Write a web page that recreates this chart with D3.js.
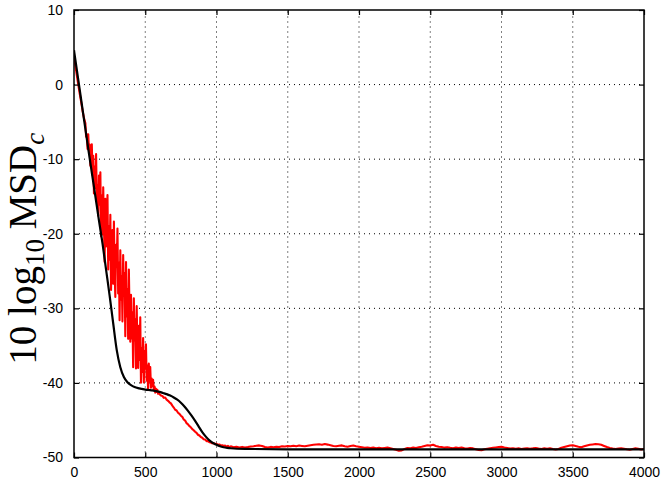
<!DOCTYPE html>
<html><head><meta charset="utf-8">
<script src="https://cdn.jsdelivr.net/npm/d3@7"></script>
<style>body{margin:0;background:#fff}</style>
</head><body>
<svg id="c" width="664" height="486"></svg>
<script>
// ---- data ----
const xTicks = [0,500,1000,1500,2000,2500,3000,3500,4000];
const yTicks = [-50,-40,-30,-20,-10,0,10];

// black curve (iteration, 10log10 MSD_c)
const blackIter = [0,25,50,75,100,125,150,175,200,225,250,275,300,325,350,375,400,425,450,475,500,525,550,575,600,625,650,675,700,725,750,775,800,825,850,875,900,925,950,975,1000,1025,1050,1075,1100,1200,1500,2000,3000,4000];
const blackMSD = [4.6,1.3,-2.0,-5.3,-8.6,-11.8,-15.0,-18.2,-21.3,-24.8,-28.3,-32.0,-35.6,-37.9,-39.2,-39.9,-40.3,-40.55,-40.7,-40.8,-40.9,-40.95,-41.0,-41.1,-41.2,-41.35,-41.5,-41.7,-41.95,-42.25,-42.65,-43.15,-43.75,-44.4,-45.1,-45.85,-46.6,-47.2,-47.7,-48.05,-48.3,-48.5,-48.62,-48.7,-48.76,-48.85,-48.9,-48.9,-48.9,-48.9];

// red curve, in segments (start iteration, step, values)
const redA = [3.7,2.5,1.2,0.0,-1.2,-2.3,-3.5,-4.5];            // 0..70 step 10
const redB = [-5.2,-7.0,-6.65,-8.62,-6.65,-8.91,-8.04,-10.88,-9.6,-8.0,-12.12,-9.55,-14.6,-11.01,-13.9,-9.3,-15.3,-13.46,-17.58,-12.2,-16.12,-11.75,-20.35,-14.89,-20.1,-13.78,-18.66,-23.8,-15.3,-21.7,-18.84,-14.8,-24.8,-19.02,-23.48,-17.45,-27.53,-22.08,-19.5,-26.7,-18.37,-24.88,-28.48,-21.48,-24.5,-19.3,-28.0,-23.86,-31.6,-22.23,-28.85,-25.7,-31.75,-22.85,-28.33,-25.28,-33.73,-23.78,-31.08,-27.45,-34.09,-24.8,-30.8,-34.48,-28.2,-34.03,-30.58,-37.9,-28.66,-34.3,-31.52,-38.07,-29.71,-35.16,-38.0,-32.34,-36.91,-31.2,-39.96,-35.4,-38.52,-33.97,-39.93,-35.74,-38.08,-34.82,-39.7,-37.67,-40.96,-37.4,-39.83,-37.86,-40.65,-39.43,-40.43,-39.59,-40.94,-40.47,-41.3,-40.77,-41.21,-40.93,-41.45,-41.29,-41.5]; // 80..600 step 5
const redC = [-41.7,-41.75,-42.0,-41.95,-42.25,-42.4,-42.6,-42.75,-43.05,-43.3,-43.6,-43.7,-44.0,-44.15,-44.4,-44.55,-44.9,-45.05,-45.4,-45.55,-45.8,-45.95,-46.2,-46.35,-46.55,-46.7,-46.95,-47.05,-47.25,-47.35,-47.55,-47.6,-47.8,-47.8,-47.95,-48.0,-48.1,-48.05,-48.2,-48.15,-48.3,-48.25,-48.4,-48.35,-48.45,-48.4,-48.55,-48.45,-48.6,-48.5]; // 610..1100 step 10
const redD = [-48.62,-48.55,-48.65,-48.58,-48.66,-48.6,-48.52,-48.5,-48.42,-48.38,-48.45,-48.6,-48.65,-48.58,-48.62,-48.55,-48.6,-48.5,-48.52,-48.45,-48.5,-48.42,-48.48,-48.4,-48.45,-48.5,-48.42,-48.35,-48.3,-48.25,-48.22,-48.28,-48.2,-48.27,-48.35,-48.45,-48.5,-48.42,-48.38,-48.48,-48.55,-48.45,-48.4,-48.48,-48.55,-48.62,-48.7,-48.65,-48.72,-48.68,-48.75,-48.7,-48.78,-48.72,-48.68,-48.75,-48.85,-48.95,-49.1,-49.05,-48.85,-48.72,-48.75,-48.68,-48.72,-48.62,-48.55,-48.45,-48.35,-48.4,-48.3,-48.45,-48.55,-48.6,-48.68,-48.62,-48.7,-48.75,-48.68,-48.72,-48.65,-48.75,-48.8,-48.72,-48.78,-48.88,-48.98,-49.02,-48.9,-48.82,-48.75,-48.7,-48.65,-48.6,-48.55,-48.65,-48.72,-48.8,-48.75,-48.82,-48.78,-48.85,-48.8,-48.75,-48.82,-48.78,-48.72,-48.8,-48.85,-48.78,-48.82,-48.75,-48.85,-48.92,-48.85,-48.7,-48.6,-48.5,-48.4,-48.35,-48.45,-48.55,-48.62,-48.5,-48.38,-48.3,-48.25,-48.2,-48.22,-48.3,-48.45,-48.6,-48.72,-48.8,-48.85,-48.8,-48.75,-48.82,-48.9,-48.95,-48.85,-48.78,-48.82,-48.92,-48.85]; // 1120.. step 20
const redSegments = [
  {start:0, step:10, values:redA},
  {start:80, step:5, values:redB},
  {start:610, step:10, values:redC},
  {start:1120, step:20, values:redD}
];

// ---- layout ----
const W = 664, H = 486;
const m = {left:74, right:20, top:10, bottom:28.5};
const svg = d3.select('#c');
const x = d3.scaleLinear().domain([0,4000]).range([m.left, W - m.right]);
const y = d3.scaleLinear().domain([-50,10]).range([H - m.bottom, m.top]);
const x0 = x(0), x1 = x(4000), y0 = y(-50), y1 = y(10);

// grid
const g = svg.append('g');
g.selectAll('.vg').data(xTicks.slice(1,-1)).join('line')
  .attr('x1', d=>x(d)).attr('x2', d=>x(d)).attr('y1', y0).attr('y2', y1)
  .attr('stroke','#000').attr('stroke-width',1).attr('stroke-dasharray','1,4');
g.selectAll('.hg').data(yTicks.slice(1,-1)).join('line')
  .attr('y1', d=>y(d)).attr('y2', d=>y(d)).attr('x1', x0).attr('x2', x1)
  .attr('stroke','#000').attr('stroke-width',1).attr('stroke-dasharray','1,4');

// data
const redPts = [];
redSegments.forEach(s => s.values.forEach((v,i) => redPts.push([s.start + i*s.step, v])));
const blackPts = blackIter.map((it,i)=>[it, blackMSD[i]]);

svg.append('clipPath').attr('id','pc').append('rect')
  .attr('x',x0).attr('y',y1).attr('width',x1-x0).attr('height',y0-y1);

svg.append('path').datum(redPts)
  .attr('clip-path','url(#pc)')
  .attr('d', d3.line().x(d=>x(d[0])).y(d=>y(d[1])))
  .attr('fill','none').attr('stroke','#ff0000').attr('stroke-width',2.1).attr('stroke-linejoin','round');
svg.append('path').datum(blackPts)
  .attr('clip-path','url(#pc)')
  .attr('d', d3.line().x(d=>x(d[0])).y(d=>y(d[1])).curve(d3.curveMonotoneX))
  .attr('fill','none').attr('stroke','#000').attr('stroke-width',2.2);

// axes (ticks inward on all sides)
const font = 'Liberation Sans, Arial, sans-serif';
const fmt = d => String(d);
const ax = svg.append('g').attr('transform',`translate(0,${y0})`)
  .call(d3.axisBottom(x).tickValues(xTicks).tickSizeInner(-5).tickSizeOuter(0).tickPadding(10).tickFormat(fmt));
const axT = svg.append('g').attr('transform',`translate(0,${y1})`)
  .call(d3.axisTop(x).tickValues(xTicks).tickSizeInner(-5).tickSizeOuter(0).tickFormat(''));
const ay = svg.append('g').attr('transform',`translate(${x0},0)`)
  .call(d3.axisLeft(y).tickValues(yTicks).tickSizeInner(-5).tickSizeOuter(0).tickPadding(11).tickFormat(fmt));
const ayR = svg.append('g').attr('transform',`translate(${x1},0)`)
  .call(d3.axisRight(y).tickValues(yTicks).tickSizeInner(-5).tickSizeOuter(0).tickFormat(''));
[ax,axT,ay,ayR].forEach(a=>{
  a.select('.domain').remove();
  a.selectAll('line').attr('stroke','#000').attr('stroke-width',1.2);
  a.selectAll('text').attr('font-family',font).attr('font-size','14px').attr('fill','#000');
});
// box
svg.append('rect').attr('x',x0).attr('y',y1).attr('width',x1-x0).attr('height',y0-y1)
  .attr('fill','none').attr('stroke','#000').attr('stroke-width',1.5);

// y label
const lab = svg.append('text')
  .attr('transform',`translate(36,${(y0+y1)/2+15}) rotate(-90)`)
  .attr('text-anchor','middle')
  .attr('font-family','Liberation Serif, Times New Roman, serif')
  .attr('font-size','39px').attr('fill','#000');
lab.append('tspan').text('10 log');
lab.append('tspan').attr('font-size','27px').attr('dy',8).text('10');
lab.append('tspan').attr('dy',-8).text(' MSD');
lab.append('tspan').attr('font-size','27px').attr('font-style','italic').attr('dy',8).text('c');
</script>
</body></html>
